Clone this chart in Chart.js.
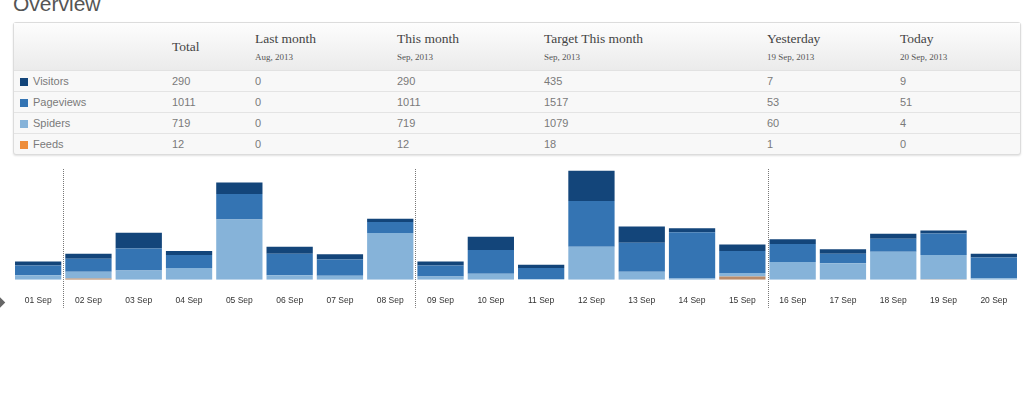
<!DOCTYPE html>
<html>
<head>
<meta charset="utf-8">
<script src="https://cdn.jsdelivr.net/npm/chart.js@4/dist/chart.umd.min.js"></script>
<style>
  body { margin: 0; background: #fff; width: 1024px; height: 396px; overflow: hidden; position: relative; font-family: "Liberation Sans", Arial, sans-serif; }
  h2 { position: absolute; left: 13px; top: -8px; margin: 0; font-weight: normal; font-size: 21px; color: #555; line-height: 24px; }
  #overview { position: absolute; left: 13px; top: 22px; width: 1006px; border-collapse: separate; border-spacing: 0;
    border: 1px solid #dcdcdc; border-radius: 3px; box-shadow: 0 1px 2px rgba(0,0,0,0.12); table-layout: fixed; background: #f8f8f8; }
  #overview th { height: 47px; padding: 0; text-align: left; vertical-align: top; font-family: "Liberation Serif", "DejaVu Serif", serif;
    font-weight: normal; font-size: 13.5px; color: #444; background: linear-gradient(#fdfdfd, #ebebeb); border-bottom: 1px solid #e2e2e2; }
  #overview th .t { display: block; margin-top: 8px; }
  #overview th.single .t { margin-top: 16px; }
  #overview th small { display: block; font-size: 9px; color: #555; margin-top: 5px; }
  #overview td { height: 20px; padding: 0; font-size: 11px; color: #7a7a7a; border-bottom: 1px solid #e4e4e4; }
  #overview tr:last-child td { border-bottom: none; }
  #overview td.lab { padding-left: 6px; }
  .sq { display: inline-block; width: 8px; height: 8px; margin-right: 5px; vertical-align: -1px; }
  #chartBox { position: absolute; left: 0; top: 160px; width: 1024px; height: 176px; }
  .chev { position: absolute; left: -8px; top: 297px; width: 11px; height: 11px; background: #666; transform: rotate(45deg); }
</style>
</head>
<body>
<h2>Overview</h2>
<table id="overview">
  <colgroup>
    <col style="width:158px"><col style="width:83px"><col style="width:142px"><col style="width:147px">
    <col style="width:223px"><col style="width:133px"><col style="width:120px">
  </colgroup>
  <thead><tr id="headRow"></tr></thead>
  <tbody id="bodyRows"></tbody>
</table>
<div class="chev"></div>
<div id="chartBox"><canvas id="dailyChart"></canvas></div>
<script>
// table data
const columns = ['Total', 'Last month', 'This month', 'Target This month', 'Yesterday', 'Today'];
const columnDates = ['', 'Aug, 2013', 'Sep, 2013', 'Sep, 2013', '19 Sep, 2013', '20 Sep, 2013'];
const seriesNames = ['Visitors', 'Pageviews', 'Spiders', 'Feeds'];
const legendColors = ['#13457a', '#3474b3', '#86b3d9', '#ee8d3a'];
const visitorsRow = [290, 0, 290, 435, 7, 9];
const pageviewsRow = [1011, 0, 1011, 1517, 53, 51];
const spidersRow = [719, 0, 719, 1079, 60, 4];
const feedsRow = [12, 0, 12, 18, 1, 0];

// chart data, one value per day
const days = ['01 Sep', '02 Sep', '03 Sep', '04 Sep', '05 Sep', '06 Sep', '07 Sep', '08 Sep', '09 Sep', '10 Sep',
              '11 Sep', '12 Sep', '13 Sep', '14 Sep', '15 Sep', '16 Sep', '17 Sep', '18 Sep', '19 Sep', '20 Sep'];
const visitors  = [10, 12, 39, 10, 28, 17, 13, 8, 10, 33, 8, 74, 40, 10, 16, 12, 11, 12, 7, 9];
const pageviews = [24, 32, 54, 32, 63, 53, 40, 27, 27, 58, 27, 113, 71, 114, 54, 44, 23, 32, 53, 51];
const spiders   = [11, 17, 23, 29, 148, 11, 10, 115, 8, 15, 2, 81, 20, 3, 9, 44, 41, 69, 60, 4];
const feeds     = [0, 3, 0, 0, 0, 0, 0, 0, 0, 0, 0, 0, 0, 0, 8, 0, 0, 0, 1, 0];
const weekStarts = ['02 Sep', '09 Sep', '16 Sep'];

const headRow = document.getElementById('headRow');
headRow.innerHTML = '<th></th>' + columns.map((c, i) =>
  columnDates[i] ? `<th><span class="t">${c}</span><small>${columnDates[i]}</small></th>`
                 : `<th class="single"><span class="t">${c}</span></th>`).join('');

const rows = [visitorsRow, pageviewsRow, spidersRow, feedsRow];
document.getElementById('bodyRows').innerHTML = rows.map((r, i) =>
  `<tr><td class="lab"><span class="sq" style="background:${legendColors[i]}"></span>${seriesNames[i]}</td>` +
  r.map(v => `<td>${v}</td>`).join('') + '</tr>').join('');

// dotted line between sunday and monday
const weekLines = {
  id: 'weekLines',
  afterDraw(chart) {
    const { ctx, chartArea, scales } = chart;
    ctx.save();
    ctx.strokeStyle = '#777';
    ctx.lineWidth = 1;
    ctx.setLineDash([1, 1]);
    weekStarts.forEach(d => {
      const i = days.indexOf(d);
      const x = Math.round((scales.x.getPixelForValue(i - 1) + scales.x.getPixelForValue(i)) / 2) + 0.5;
      ctx.beginPath();
      ctx.moveTo(x, chartArea.top - 1);
      ctx.lineTo(x, chartArea.bottom + 28);
      ctx.stroke();
    });
    ctx.restore();
  }
};

new Chart(document.getElementById('dailyChart'), {
  type: 'bar',
  data: {
    labels: days,
    datasets: [
      { label: 'Feeds', data: feeds, backgroundColor: '#b98b6a' },
      { label: 'Spiders', data: spiders, backgroundColor: '#86b3d9' },
      { label: 'Pageviews', data: pageviews, backgroundColor: '#3474b3' },
      { label: 'Visitors', data: visitors, backgroundColor: '#13457a' }
    ]
  },
  options: {
    responsive: true,
    maintainAspectRatio: false,
    animation: false,
    datasets: { bar: { barPercentage: 0.92, categoryPercentage: 1 } },
    layout: { padding: { top: 10, left: 13, right: 5, bottom: 14 } },
    plugins: { legend: { display: false }, tooltip: { enabled: false } },
    scales: {
      x: {
        stacked: true,
        border: { display: false },
        grid: { display: false, drawTicks: false },
        ticks: { color: '#333', font: { size: 8.5, family: 'Liberation Sans, Arial' }, padding: 16, maxRotation: 0, autoSkip: false }
      },
      y: { stacked: true, display: false, min: 0, max: 270 }
    }
  },
  plugins: [weekLines]
});
</script>
</body>
</html>
